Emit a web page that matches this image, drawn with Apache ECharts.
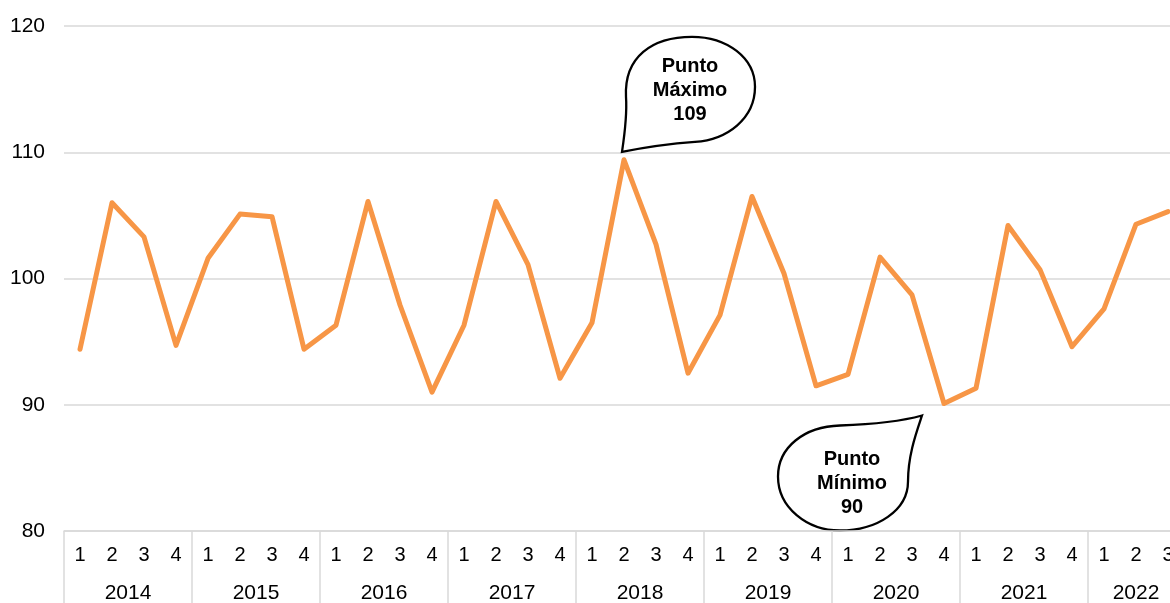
<!DOCTYPE html>
<html>
<head>
<meta charset="UTF-8"/>
<script src="https://cdn.jsdelivr.net/npm/echarts@6/dist/echarts.min.js"></script>
<style>
  html, body { margin: 0; background: #ffffff; }
  #c { width: 1170px; height: 603px; }
</style>
</head>
<body>
<div id="c"></div>
<script>
// trimestres 2014 T1 .. 2022 T3
const years = ["2014", "2015", "2016", "2017", "2018", "2019", "2020", "2021", "2022"];
const quarterLabels = ["1", "2", "3", "4"];
const lastYearQuarters = 3;

const values = [
  94.4, 106.0, 103.3, 94.7,   // 2014
  101.6, 105.1, 104.9, 94.4,  // 2015
  96.3, 106.1, 97.9, 91.0,    // 2016
  96.3, 106.1, 101.1, 92.1,   // 2017
  96.5, 109.4, 102.7, 92.5,   // 2018
  97.1, 106.5, 100.4, 91.5,   // 2019
  92.4, 101.7, 98.7, 90.1,    // 2020
  91.3, 104.2, 100.7, 94.6,   // 2021
  97.6, 104.3, 105.3          // 2022
];

const yTicks = { min: 80, max: 120, interval: 10 };

// categorías de trimestre y de año (una por punto)
const qCats = [];
const yearCats = [];
years.forEach((y, yi) => {
  const n = yi === years.length - 1 ? lastYearQuarters : 4;
  for (let q = 0; q < n; q++) {
    qCats.push(quarterLabels[q]);
    // etiqueta del año en el 2º trimestre; si el año está completo se corre medio hueco
    if (q === 1) {
      yearCats.push(n === 4
        ? { value: y, textStyle: { padding: [0, 0, 0, 32] } }
        : { value: y });
    } else {
      yearCats.push({ value: "", textStyle: {} });
    }
  }
});

const FONT = "'Liberation Sans', Arial, sans-serif";
const GRID_C = "#d9d9d9";

// forma de globo: lista de curvas bezier relativas a la punta (0,0)
const maxCurves = [
  [3, -20, 5, -40, 4, -55],
  [2, -95, 30, -115, 70, -115],
  [105, -115, 133, -94, 133, -65],
  [133, -33, 105, -12, 73, -10],
  [45, -8, 20, -4, 0, 0]
];
const minCurves = [
  [-25, 7, -55, 9, -82, 10],
  [-118, 11, -144, 32, -144, 61],
  [-144, 92, -115, 115, -82, 115],
  [-45, 115, -14, 95, -14, 66],
  [-14, 40, -6, 18, 0, 0]
];

echarts.graphic.registerShape("bubbleShape", echarts.graphic.extendShape({
  shape: { curves: [] },
  buildPath(ctx, shape) {
    ctx.moveTo(0, 0);
    shape.curves.forEach((c) => ctx.bezierCurveTo(c[0], c[1], c[2], c[3], c[4], c[5]));
    ctx.closePath();
  }
}));

const chart = echarts.init(document.getElementById("c"), null, { renderer: "canvas" });

chart.setOption({
  animation: false,
  backgroundColor: "#ffffff",
  grid: { left: 64, right: -14, top: 26, bottom: 72, outerBoundsMode: "none", containLabel: false },
  xAxis: [
    {
      type: "category",
      data: qCats,
      boundaryGap: true,
      axisLine: { show: true, lineStyle: { color: GRID_C, width: 1.5 } },
      axisTick: { show: false },
      axisLabel: { color: "#000", fontFamily: FONT, fontSize: 20, margin: 14, interval: 0 }
    },
    {
      type: "category",
      data: yearCats,
      position: "bottom",
      boundaryGap: true,
      axisLine: { show: false },
      axisTick: {
        show: true,
        interval: (idx) => idx % 4 === 0,
        length: 80,
        lineStyle: { color: GRID_C, width: 1.5 }
      },
      axisLabel: { color: "#000", fontFamily: FONT, fontSize: 21, margin: 52, interval: 0 }
    }
  ],
  yAxis: {
    type: "value",
    min: yTicks.min,
    max: yTicks.max,
    interval: yTicks.interval,
    axisLine: { show: false },
    axisTick: { show: false },
    axisLabel: { color: "#000", fontFamily: FONT, fontSize: 21, margin: 19 },
    splitLine: { show: true, lineStyle: { color: GRID_C, width: 1.5 } }
  },
  series: [{
    type: "line",
    data: values,
    xAxisIndex: 0,
    yAxisIndex: 0,
    symbol: "none",
    lineStyle: { color: "#F79646", width: 5, join: "round", cap: "round" },
    z: 3
  }]
});

// globos de Punto Máximo / Mínimo, anclados al punto del dato
let iMax = 0, iMin = 0;
values.forEach((v, i) => {
  if (v > values[iMax]) iMax = i;
  if (v < values[iMin]) iMin = i;
});

function bubble(idx, dx, dy, curves, tx, ty, title) {
  const p = chart.convertToPixel({ xAxisIndex: 0, yAxisIndex: 0 }, [idx, values[idx]]);
  return {
    type: "group",
    x: p[0] + dx,
    y: p[1] + dy,
    z: 100,
    children: [
      {
        type: "bubbleShape",
        shape: { curves: curves },
        style: { fill: "#ffffff", stroke: "#000000", lineWidth: 2.3 }
      },
      {
        type: "text",
        x: tx,
        y: ty,
        style: {
          text: title + "\n" + Math.round(values[idx]),
          fill: "#000",
          font: "bold 20px " + FONT,
          align: "center",
          verticalAlign: "middle",
          lineHeight: 24
        }
      }
    ]
  };
}

chart.setOption({
  graphic: [
    bubble(iMax, -2, -8, maxCurves, 68, -61, "Punto\nMáximo"),
    bubble(iMin, -22, 12, minCurves, -70, 68, "Punto\nMínimo")
  ]
});
</script>
</body>
</html>
